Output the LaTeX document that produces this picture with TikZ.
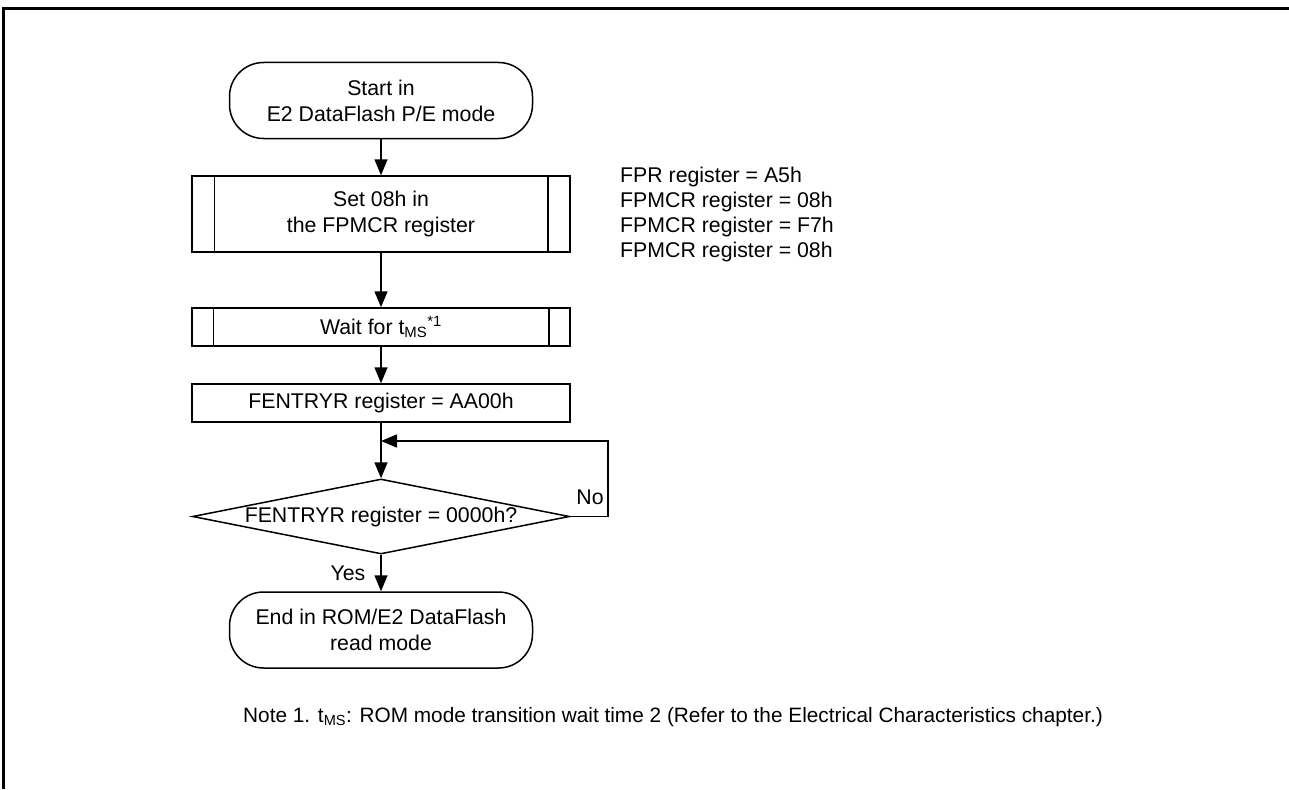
\documentclass[tikz,border=0pt]{standalone}
\usepackage{fontspec}
\setmainfont{Liberation Sans}
\usetikzlibrary{arrows.meta,shapes.geometric}
\begin{document}
\begin{tikzpicture}[x=1pt,y=-1pt,
  every node/.style={font=\fontsize{21.3}{26}\selectfont},
  line/.style={line width=1.5pt},
  arr/.style={line width=1.5pt,-{Triangle[length=16pt,width=13pt]}},
  term/.style={draw,line width=1.5pt,rounded corners=34pt,minimum width=303pt,minimum height=76pt,align=center,inner sep=0pt},
  proc/.style={draw,line width=1.5pt,minimum width=378pt,align=center,inner sep=0pt},
  dec/.style={draw,line width=1.5pt,diamond,minimum width=377pt,minimum height=75pt,inner sep=0pt},
  lbl/.style={inner sep=0pt}]
\useasboundingbox (0,0) rectangle (1289,789);
\draw[line width=3pt] (1289,8.5) -- (3,8.5) -- (3,789);
\node[term] (start) at (381,100.5) {Start in\\E2 DataFlash P/E mode};
\node[proc,minimum height=76pt] (set) at (381,214) {Set 08h in\\the FPMCR register};
\draw[line] ([xshift=23pt]set.north west) -- ([xshift=23pt]set.south west);
\draw[line] ([xshift=-23pt]set.north east) -- ([xshift=-23pt]set.south east);
\node[proc,minimum height=38pt] (wait) at (381,327) {Wait for t\textsubscript{MS}\textsuperscript{*1}};
\draw[line] ([xshift=22pt]wait.north west) -- ([xshift=22pt]wait.south west);
\draw[line] ([xshift=-22pt]wait.north east) -- ([xshift=-22pt]wait.south east);
\node[proc,minimum height=38pt] (fent) at (381,403) {FENTRYR register = AA00h};
\node[dec] (dec) at (381,516.5) {\makebox[0pt]{FENTRYR register = 0000h?}};
\node[term] (end) at (381,630) {End in ROM/E2 DataFlash\\read mode};
\coordinate (j) at (381,441);
\coordinate (c1) at (608,516.5);
\coordinate (c2) at (608,441);
\draw[arr] (start) -- (set);
\draw[arr] (set) -- (wait);
\draw[arr] (wait) -- (fent);
\draw[arr] (fent) -- (dec);
\draw[arr] (dec.east) -- (c1) -- (c2) -- (j);
\draw[arr] (dec) -- (end);
\node[lbl] (no) at (590,497) {No};
\node[lbl] (yes) at (348,573) {Yes};
\node[lbl,anchor=base west,align=left,font=\fontsize{21.3}{25}\selectfont] (regs) at (620,257) {FPR register = A5h\\FPMCR register = 08h\\FPMCR register = F7h\\FPMCR register = 08h};
\node[lbl,anchor=base west,font=\fontsize{20.8}{25}\selectfont] (note) at (243,722) {Note 1. t\textsubscript{MS}: ROM mode transition wait time 2 (Refer to the Electrical Characteristics chapter.)};
\end{tikzpicture}
\end{document}
